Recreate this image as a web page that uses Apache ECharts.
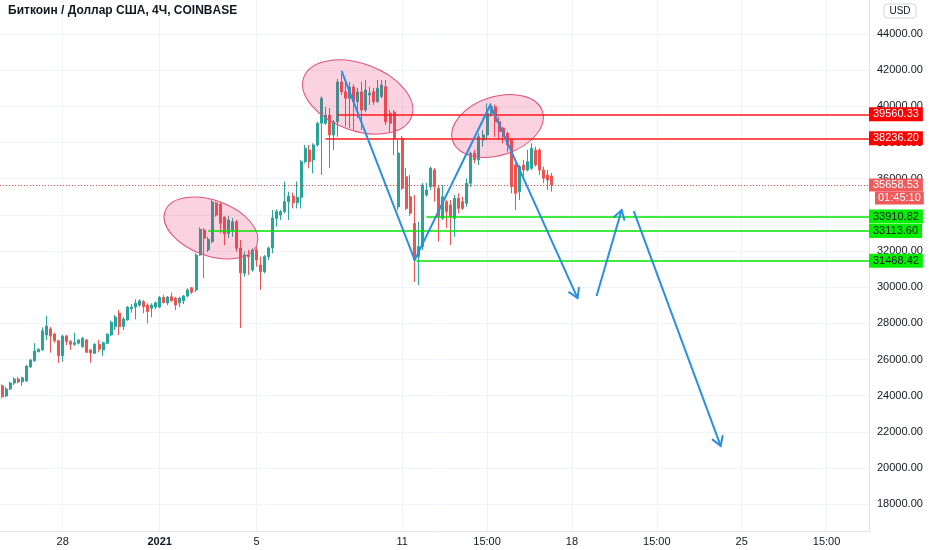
<!DOCTYPE html>
<html><head><meta charset="utf-8">
<script src="https://cdn.jsdelivr.net/npm/echarts@6/dist/echarts.min.js"></script>
<style>html,body{margin:0;padding:0;background:#fff}#c{width:932px;height:550px}</style>
</head><body><div id="c"></div>
<script>
// ---------------- data ----------------
const chartTitle = 'Биткоин / Доллар США, 4Ч, COINBASE';
const currency = 'USD';
// x axis: one slot per 4H bar (slot 0 = 25 Dec 15:00)
const xLabelSlots = [15, 39, 63, 99, 120, 141, 162, 183, 204];
const xLabelTexts = ['28', '2021', '5', '11', '15:00', '18', '15:00', '25', '15:00'];
const yTicks = [18000, 20000, 22000, 24000, 26000, 28000, 30000, 32000, 34000, 36000, 38000, 40000, 42000, 44000];
// candles [open, close, low, high]
const candles = [
[24550,23940,23860,24630],[23980,24370,23930,24480],[24370,24700,24310,24770],[24700,24920,24590,25020],
[24920,24760,24680,25020],[24770,24990,24550,25050],[24810,25640,24770,25700],[25590,25970,25530,26030],
[25930,26470,25880,26900],[26430,26570,26400,26620],[26530,27590,26490,27780],[27360,27850,27080,28410],
[27690,27300,26380,27800],[27410,27040,26930,27480],[27040,26210,25810,27080],[26210,27300,25880,27360],
[27300,26990,26800,27360],[26990,26840,26530,27080],[26840,26930,26750,27480],[26900,27080,26840,27140],
[26710,27170,26650,27250],[27080,26400,26360,27140],[26530,26360,25820,26570],[26340,26840,26300,26900],
[26840,26570,26400,27080],[26530,26930,26210,26990],[26900,27400,26860,27450],[27360,28060,27300,28150],
[27820,28350,27630,28460],[28570,27820,27360,28740],[27820,28240,27630,28340],[28190,28900,28150,28960],
[28810,28900,28590,29070],[28900,29110,28220,29330],[29010,29250,28920,29330],[29200,28920,28560,29290],
[29010,28650,28000,29110],[28830,29010,28340,29110],[28900,29140,28780,29200],[28900,29440,28830,29510],
[29440,29140,29110,29570],[29130,29460,29010,29510],[29470,29250,29200,29700],[29390,29010,28740,29470],
[29130,29400,28900,29470],[29250,29510,29070,29570],[29510,29850,29440,29940],[29970,29720,29620,30010],
[29850,31780,29730,31880],[31780,33200,31730,33310],[33160,32710,30510,33270],[32060,32650,31950,32780],
[32520,34710,32430,34820],[34660,33990,33900,34730],[34600,33530,33000,34670],[33880,32940,32330,33900],
[32980,33720,32720,33940],[33160,33620,32790,33830],[33620,32150,31960,33720],[32170,30790,27740,32610],
[30770,31780,30580,31960],[31780,31670,30680,32060],[30950,32060,30860,32150],[32060,31500,31130,32240],
[31230,30860,29850,31690],[30860,31690,30770,31780],[31690,32170,31500,32240],[32170,33830,31880,34270],
[33810,34180,33350,34310],[33990,34180,33720,34270],[34180,34730,34090,35840],[34730,35040,33720,35280],
[35040,34670,34360,35230],[34670,34970,34360,35840],[34970,36940,34360,37040],[36940,37680,36850,37870],
[37590,36940,36580,37870],[37040,37870,36300,37960],[37870,39070,37770,39150],[39070,40450,36210,40540],
[39070,39520,38970,39980],[39520,38420,36580,39910],[38420,39150,37590,39250],[39150,41350,38320,41520],
[41350,40810,40630,41790],[40810,40450,38880,41460],[40450,41070,38800,41350],[41070,40260,38700,41240],
[40260,40800,39360,41020],[40800,39800,38700,41370],[39800,40910,39700,41460],[40630,40730,40080,41090],
[40810,40260,40080,41020],[40260,41000,40190,41460],[40540,41180,40450,41460],[41090,39150,38970,41460],
[39620,39070,38580,39800],[39690,38240,37310,39800],[34440,37420,34270,38140],[38240,35470,35380,38360],
[36110,34360,34270,36590],[35000,34090,33940,36210],[33530,31500,30290,35100],[31690,32240,30120,33620],
[32240,35650,32060,35760],[35100,35380,35000,35760],[35560,36580,35380,36670],[36480,35560,34730,36590],
[35470,33900,32520,35650],[33810,35000,33720,35650],[34730,34180,33270,34820],[34550,33900,32330,34820],
[33810,34920,32790,35100],[34920,34360,34090,35190],[34730,34360,34270,35000],[34640,35750,34450,36020],
[35750,37410,35560,37490],[37410,37040,36850,37590],[37040,38320,36760,38510],[38140,38420,37770,38700],
[38420,39620,38140,40170],[39620,39980,39430,40130],[39980,39150,38320,40100],[39150,38600,38140,39430],
[38790,38320,37960,38880],[38510,37870,37490,38600],[38140,35560,35190,38240],[36760,35190,34270,36850],
[35280,36670,34820,36760],[36760,36480,36110,37040],[36480,36940,36400,37590],[36580,37680,36480,37960],
[37590,36760,36670,37770],[37590,36480,36210,37680],[36480,36020,35750,36670],[36210,35930,35380,36480],
[36150,35658.53,35280,36320]
];
const lastPrice = 35658.53;
const countdown = '01:45:10';
// horizontal levels: price and starting slot
const resistanceLevels = [{price: 39560.33, from: 83}, {price: 38236.20, from: 80}];
const supportLevels = [{price: 33910.82, from: 105}, {price: 33113.60, from: 51}, {price: 31468.42, from: 102.5}];
// arrow paths [slot, price]
const arrowPaths = [
  [[84.0, 41960], [102.1, 31500], [120.8, 40080], [142.4, 29400]],
  [[147.1, 29510], [153.3, 34270]],
  [[156.3, 34210], [177.8, 21220]]
];
// ellipses [centre slot, centre price, half-width in slots, half-height in price]
const ellipses = [[51.7, 33270, 12.1, 1530], [88.0, 40520, 14.2, 1850], [122.6, 38920, 11.7, 1620]];

// ---------------- style / layout ----------------
const ellipseTilt = [-20, -20, 18];
const FONT = '"Liberation Sans", Arial, sans-serif';
const UP = '#26a69a', DOWN = '#ef5350', BLUE = '#2a8fe0';
const X_MIN = -0.5, X_MAX = 214.5, Y_MIN = 16515, Y_MAX = 45885;
const LAST_BG = '#f05a5a';

const candleData = candles.map((d, i) => [i].concat(d));

function levelLine(lv, lineColor, badgeBg, badgeFg) {
  return [
    {coord: [lv.from, lv.price],
     lineStyle: {color: lineColor, width: 1.5, type: 'solid'},
     label: {show: true, position: 'end', distance: 0, formatter: lv.price.toFixed(2),
       color: badgeFg, backgroundColor: badgeBg, padding: [2, 4, 1, 4], fontSize: 11, lineHeight: 11, fontFamily: FONT}},
    {coord: [X_MAX, lv.price]}
  ];
}

const markData = [
  [
    {coord: [X_MIN, lastPrice],
     lineStyle: {color: '#f04848', type: [1, 2], width: 1.2},
     label: {show: true, position: 'end', distance: 0,
       formatter: '{e|' + countdown + '}\n{a|' + lastPrice.toFixed(2) + '}\n{s|}{b|' + countdown + '}',
       rich: {
         e: {color: 'rgba(0,0,0,0)', fontSize: 11, lineHeight: 13, height: 13, padding: [0, 4], fontFamily: FONT},
         a: {color: '#fff', backgroundColor: LAST_BG, fontSize: 11, lineHeight: 13, height: 13, padding: [0, 4], fontFamily: FONT},
         s: {width: 6, height: 13, lineHeight: 13},
         b: {color: '#fff', backgroundColor: LAST_BG, fontSize: 11, lineHeight: 13, height: 13, padding: [0, 3], fontFamily: FONT}
       }}},
    {coord: [X_MAX, lastPrice]}
  ]
].concat(resistanceLevels.map(lv => levelLine(lv, '#ff1a1a', '#ff0000', '#ffffff')))
 .concat(supportLevels.map(lv => levelLine(lv, '#00e600', '#00f000', '#131722')));

const chart = echarts.init(document.getElementById('c'));
chart.setOption({
  animation: false,
  backgroundColor: '#ffffff',
  title: {text: chartTitle, left: 8, top: 5, padding: 0,
    textStyle: {fontSize: 12, fontWeight: 'bold', color: '#131722', fontFamily: FONT}},
  graphic: [
    {type: 'rect', shape: {x: 884, y: 4, width: 32, height: 14, r: 3}, style: {fill: '#fff', stroke: '#d1d4dc', lineWidth: 1}, z: 10},
    {type: 'text', x: 900, y: 11.5, style: {text: currency, align: 'center', verticalAlign: 'middle', font: '10px ' + FONT, fill: '#131722'}, z: 11}
  ],
  grid: {left: 0, right: 63, top: 0, bottom: 19},
  xAxis: {
    type: 'value', min: X_MIN, max: X_MAX,
    axisLine: {show: true, onZero: false, lineStyle: {color: '#e0e3eb'}},
    axisTick: {show: false, customValues: xLabelSlots},
    axisLabel: {customValues: xLabelSlots, color: '#131722', fontSize: 11, fontFamily: FONT, margin: 5,
      formatter: v => { const k = xLabelSlots.indexOf(Math.round(v)); const t = k >= 0 ? xLabelTexts[k] : ''; return t === '2021' ? '{b|' + t + '}' : t; },
      rich: {b: {fontWeight: 'bold', fontSize: 11, fontFamily: FONT, color: '#131722'}}},
    splitLine: {show: true, lineStyle: {color: '#f0f3fa', width: 1}}
  },
  yAxis: {
    type: 'value', position: 'right', min: Y_MIN, max: Y_MAX,
    axisLine: {show: true, onZero: false, lineStyle: {color: '#e0e3eb'}},
    axisTick: {show: false, customValues: yTicks},
    axisLabel: {customValues: yTicks, color: '#131722', fontSize: 11, fontFamily: FONT, margin: 8,
      formatter: v => Number(v).toFixed(2)},
    splitLine: {show: true, lineStyle: {color: '#f0f3fa', width: 1}}
  },
  series: [
    {
      type: 'candlestick', data: candleData, encode: {x: 0, y: [1, 2, 3, 4]},
      barWidth: 2.5, z: 2,
      itemStyle: {color: UP, color0: DOWN, borderColor: UP, borderColor0: DOWN, borderWidth: 1},
      markLine: {symbol: 'none', silent: true, animation: false, z: 5, data: markData}
    },
    {
      type: 'custom', z: 3, silent: true,
      data: ellipses.map(e => [e[0], e[1]]), encode: {x: 0, y: 1},
      renderItem(params, api) {
        const e = ellipses[params.dataIndex];
        const c = api.coord([e[0], e[1]]);
        const s = api.size([e[2] * 2, e[3] * 2], [e[0], e[1]]);
        return {type: 'ellipse', x: c[0], y: c[1], rotation: ellipseTilt[params.dataIndex] * Math.PI / 180,
          shape: {cx: 0, cy: 0, rx: s[0] / 2, ry: s[1] / 2},
          style: {fill: 'rgba(233,30,99,0.2)', stroke: '#e0507a', lineWidth: 1}};
      }
    },
    {
      type: 'custom', z: 6, silent: true,
      data: arrowPaths.map(p => p[0]), encode: {x: 0, y: 1},
      renderItem(params, api) {
        const pts = arrowPaths[params.dataIndex].map(p => api.coord(p));
        const n = pts.length, tip = pts[n - 1], prev = pts[n - 2];
        const ang = Math.atan2(tip[1] - prev[1], tip[0] - prev[0]);
        const L = 11, A = 0.55;
        const head = [[tip[0] - L * Math.cos(ang - A), tip[1] - L * Math.sin(ang - A)], tip,
                      [tip[0] - L * Math.cos(ang + A), tip[1] - L * Math.sin(ang + A)]];
        return {type: 'group', children: [
          {type: 'polyline', shape: {points: pts}, style: {stroke: BLUE, lineWidth: 2, fill: 'none'}},
          {type: 'polyline', shape: {points: head}, style: {stroke: BLUE, lineWidth: 2, fill: 'none'}}
        ]};
      }
    }
  ]
});
</script></body></html>
